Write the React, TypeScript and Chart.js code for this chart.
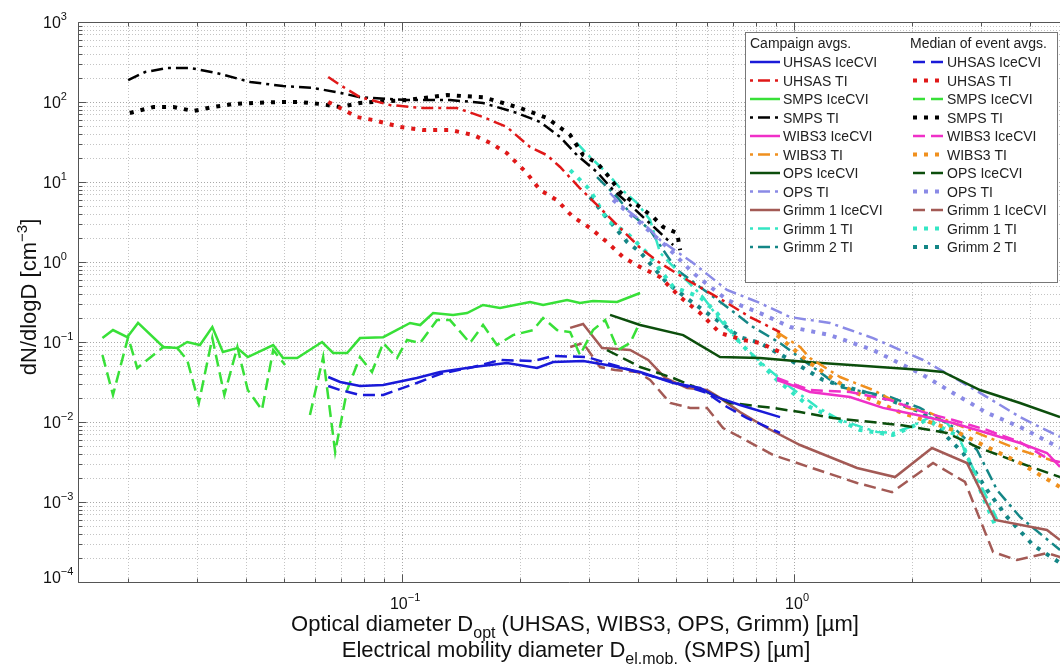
import React, { useEffect, useRef } from "react";
import { Chart, registerables } from "chart.js";

Chart.register(...registerables);

type Pt = [number, number | null];

// ---------- axis ranges / ticks ----------
const X_MIN = 0.0149;
const X_MAX = 4.77;
const Y_MIN = 1e-4;
const Y_MAX = 1e3;
const xLabelDecades = [-1, 0];
const yLabelDecades = [-4, -3, -2, -1, 0, 1, 2, 3];

// ---------- data (diameter in µm, dN/dlogD in cm^-3) ----------
const uhsasIceCviAvg: Pt[] = [[0.0648,0.0365],[0.0695,0.0316],[0.0781,0.0282],[0.0895,0.029],[0.109,0.0355],[0.125,0.0422],[0.152,0.0487],[0.185,0.0546],[0.221,0.0473],[0.243,0.0562],[0.29,0.0579],[0.333,0.0516],[0.405,0.0422],[0.492,0.0307],[0.576,0.0266],[0.636,0.0205],[0.728,0.0163],[0.921,0.0115]];
const uhsasIceCviMed: Pt[] = [[0.0648,0.0282],[0.0695,0.0251],[0.0781,0.0218],[0.0895,0.0218],[0.109,0.0307],[0.125,0.0398],[0.152,0.0487],[0.178,0.0596],[0.216,0.0579],[0.243,0.0668],[0.297,0.0649],[0.333,0.0546],[0.405,0.041],[0.492,0.0316],[0.6,0.023],[0.675,0.0154],[0.759,0.0112],[0.921,0.00729]];
const uhsasTiAvg: Pt[] = [[0.0648,205],[0.0695,163],[0.0781,115],[0.0931,91.7],[0.113,84.1],[0.138,84.1],[0.161,64.9],[0.185,48.7],[0.212,27.4],[0.234,21.7],[0.253,15.4],[0.284,8.41],[0.32,4.73],[0.36,2.66],[0.405,1.5],[0.455,0.972],[0.534,0.596],[0.675,0.307],[0.772,0.205],[0.921,0.133]];
const uhsasTiMed: Pt[] = [[0.0648,100],[0.0695,84.1],[0.0767,64.9],[0.0843,59.6],[0.0989,48.7],[0.113,44.7],[0.1325,44.7],[0.152,38.7],[0.168,30.7],[0.185,23],[0.208,12.95],[0.225,7.94],[0.248,5.96],[0.273,3.65],[0.302,2.66],[0.333,1.78],[0.366,1.155],[0.405,0.866],[0.455,0.649],[0.512,0.365],[0.576,0.23],[0.647,0.13],[0.741,0.106],[0.819,0.0972],[0.921,0.075]];

const smpsIceCviAvg: Pt[] = [[0.0172,0.112],[0.0183,0.141],[0.0199,0.115],[0.0212,0.173],[0.0246,0.0866],[0.0267,0.0841],[0.0283,0.1],[0.0305,0.0917],[0.0328,0.154],[0.0349,0.075],[0.038,0.0841],[0.0404,0.0649],[0.0469,0.0917],[0.0497,0.0631],[0.054,0.0631],[0.0625,0.1],[0.0667,0.0729],[0.0724,0.0729],[0.0781,0.112],[0.0895,0.115],[0.1048,0.173],[0.1112,0.163],[0.12,0.23],[0.1349,0.218],[0.1465,0.23],[0.1609,0.29],[0.1778,0.266],[0.2121,0.316],[0.229,0.29],[0.2636,0.335],[0.2844,0.307],[0.307,0.325],[0.3536,0.316],[0.4048,0.41]];
const smpsIceCviMed: Pt[] = [[0.0172,0.0688],[0.0183,0.0218],[0.02,0.115],[0.0211,0.0473],[0.0246,0.0866],[0.0267,0.0841],[0.0283,0.0596],[0.0303,0.0173],[0.0328,0.112],[0.0352,0.0218],[0.038,0.0866],[0.0404,0.0251],[0.0439,0.0141],[0.0469,0.0794],[0.0503,0.0516],[0.053,null],[0.0582,0.0122],[0.0629,0.0649],[0.0675,0.00422],[0.0724,0.0251],[0.0781,0.0649],[0.0838,0.0422],[0.0895,0.0972],[0.0971,0.0631],[0.103,0.106],[0.1112,0.0972],[0.1228,0.188],[0.1325,0.188],[0.149,0.0972],[0.1609,0.163],[0.1746,0.0917],[0.1919,0.122],[0.216,0.141],[0.229,0.2],[0.2484,0.141],[0.2684,0.133],[0.2844,0.0688],[0.307,0.141],[0.3296,0.188],[0.3557,0.0794],[0.3817,0.0972],[0.4048,0.178]];
const smpsTiAvg: Pt[] = [[0.02,188],[0.0221,237],[0.0252,266],[0.0288,266],[0.0337,230],[0.041,178],[0.0497,158],[0.0593,150],[0.0695,130],[0.0781,115],[0.103,106],[0.1325,106],[0.1609,97.2],[0.1965,72.9],[0.225,56.2],[0.253,36.5],[0.2794,21.7],[0.3143,13.3],[0.3454,7.94],[0.3817,5.16],[0.4474,2.51],[0.4916,1.63]];
const smpsTiMed: Pt[] = [[0.0202,72.9],[0.0232,86.6],[0.0261,86.6],[0.0293,77.2],[0.033,86.6],[0.0371,94.4],[0.0417,97.2],[0.0489,100],[0.0549,100],[0.0618,94.4],[0.0695,86.6],[0.0781,97.2],[0.0843,100],[0.103,106],[0.1303,122],[0.1609,115],[0.2,84.1],[0.2343,63.1],[0.2684,38.7],[0.2896,21.7],[0.3143,17.3],[0.3393,11.2],[0.3599,7.5],[0.3817,5.96],[0.4048,4.87],[0.437,3.65],[0.4636,2.74],[0.5032,2.3],[0.5122,1.41]];

const wibs3IceCviAvg: Pt[] = [[0.9047,0.0335],[1.018,0.0274],[1.098,0.0237],[1.389,0.0205],[1.687,0.015],[2.06,0.0122],[2.546,0.00972],[3.107,0.00729],[3.772,0.00546],[4.418,0.0041],[4.771,0.00274]];
const wibs3IceCviMed: Pt[] = [[0.9047,0.0355],[1.098,0.0251],[1.389,0.0237],[1.758,0.0188],[2.134,0.0133],[2.546,0.0106],[3.107,0.00794],[3.772,0.00562],[4.498,0.00335],[4.771,0.00316]];
const wibs3TiAvg: Pt[] = [[0.9047,0.133],[1.036,0.0866],[1.098,0.0631],[1.31,0.0365],[1.591,0.0251],[1.942,0.015],[2.223,0.013],[2.546,0.00972],[3.107,0.00649],[3.772,0.00447],[4.771,0.00307]];
const wibs3TiMed: Pt[] = [[0.9047,0.122],[1.098,0.0546],[1.389,0.0251],[1.864,0.0133],[2.546,0.00794],[3.107,0.00487],[3.772,0.00307],[4.771,0.00154]];

const opsIceCviAvg: Pt[] = [[0.3393,0.218],[0.4048,0.163],[0.5214,0.122],[0.6474,0.0649],[0.819,0.0631],[1.079,0.0562],[2.134,0.0447],[2.399,0.0422],[2.982,0.0251],[3.772,0.0173],[4.771,0.0115]];
const opsIceCviMed: Pt[] = [[0.3334,0.0794],[0.4048,0.0487],[0.4916,0.0355],[0.5997,0.0237],[0.6866,0.0173],[0.8839,0.015],[1.036,0.0133],[1.257,0.0112],[1.864,0.00917],[2.455,0.00729],[2.93,0.00487],[3.772,0.00307],[4.771,0.00205]];
const opsTiAvg: Pt[] = [[0.3393,7.29],[0.3663,4.87],[0.4048,3.35],[0.4554,1.88],[0.5529,0.972],[0.6745,0.447],[0.819,0.307],[0.9768,0.205],[1.235,0.173],[1.591,0.112],[2.134,0.0596],[2.546,0.0365],[3.107,0.0205],[3.772,0.0115],[4.771,0.0065]];
const opsTiMed: Pt[] = [[0.3454,5.96],[0.4048,3.07],[0.4745,1.54],[0.5529,0.729],[0.6745,0.335],[0.819,0.23],[0.9768,0.154],[1.235,0.122],[1.591,0.0794],[1.942,0.0487],[2.134,0.0387],[2.546,0.023],[3.107,0.013],[3.772,0.00866],[4.771,0.00473]];

const grimm1IceCviAvg: Pt[] = [[0.2684,0.15],[0.2896,0.168],[0.3237,0.0841],[0.3536,0.0818],[0.3817,0.0794],[0.4245,0.0596],[0.469,0.0355],[0.5336,0.0266],[0.5997,0.0251],[0.6474,0.02],[0.7281,0.0133],[0.8532,0.00841],[1.036,0.00516],[1.448,0.00266],[1.81,0.00205],[2.249,0.00473],[2.761,0.00307],[3.257,0.000596],[4.418,0.000447],[4.771,0.000335]];
const grimm1IceCviMed: Pt[] = [[0.2684,0.0866],[0.2896,0.0972],[0.3199,0.0487],[0.3494,0.0447],[0.3977,0.0422],[0.4294,0.0335],[0.483,0.0173],[0.5432,0.015],[0.5997,0.015],[0.659,0.00841],[0.7281,0.00649],[0.8839,0.00387],[1.448,0.00173],[1.778,0.00133],[2.263,0.00307],[2.73,0.00178],[3.219,0.000237],[3.705,0.000188],[4.418,0.00023],[4.771,0.000205]];
const grimm1TiAvg: Pt[] = [[0.2794,30.7],[0.3018,20.5],[0.3334,12.95],[0.3599,8.41],[0.3977,5.46],[0.4294,3.35],[0.4554,1.3],[0.5214,0.649],[0.5859,0.365],[0.6474,0.188],[0.7281,0.0972],[0.8532,0.0473],[0.9768,0.0274],[1.144,0.0154],[1.31,0.0106],[1.629,0.0075],[1.789,0.00729],[1.977,0.00866],[2.223,0.0115],[2.455,0.0097],[2.65,0.00596],[2.93,0.00205],[3.296,0.00061]];
const grimm1TiMed: Pt[] = [[0.2684,14.1],[0.3018,7.94],[0.3334,3.35],[0.375,2.3],[0.4218,1.3],[0.4916,0.487],[0.5755,0.365],[0.636,0.23],[0.7281,0.0972],[0.9047,0.0335],[1.098,0.0154],[1.474,0.00794],[1.789,0.00688],[2.184,0.0106],[2.65,0.00649],[3.035,0.00115],[3.296,0.00045]];
const grimm2TiAvg: Pt[] = [[0.3143,11.5],[0.3536,6.49],[0.3817,4.1],[0.4294,2.51],[0.4636,1.41],[0.5032,0.794],[0.5755,0.487],[0.6745,0.274],[0.7861,0.154],[0.921,0.0972],[1.054,0.0596],[1.31,0.0274],[1.758,0.0205],[2.096,0.015],[2.546,0.00866],[2.93,0.00447],[3.296,0.00141],[3.772,0.00065],[4.771,0.000251]];
const grimm2TiMed: Pt[] = [[0.3018,6.49],[0.3334,3.55],[0.375,1.78],[0.4048,1.33],[0.4745,0.546],[0.5529,0.307],[0.636,0.188],[0.7281,0.115],[0.819,0.0972],[0.9768,0.0596],[1.186,0.0335],[1.448,0.0251],[1.758,0.0188],[2.134,0.013],[2.698,0.0041],[3.107,0.00141],[3.496,0.00065],[4.071,0.00029],[4.771,0.000173]];

// ---------- series (legend order) ----------
const instrumentNames = ["UHSAS IceCVI","UHSAS TI","SMPS IceCVI","SMPS TI","WIBS3 IceCVI","WIBS3 TI","OPS IceCVI","OPS TI","Grimm 1 IceCVI","Grimm 1 TI","Grimm 2 TI"];
const instrumentColors = ["#1a1ad8","#e01818","#38e038","#000000","#f030c8","#f0901e","#0c4e0c","#8a8ae6","#a35a55","#34e6c4","#148686"];
const campaignData = [uhsasIceCviAvg,uhsasTiAvg,smpsIceCviAvg,smpsTiAvg,wibs3IceCviAvg,wibs3TiAvg,opsIceCviAvg,opsTiAvg,grimm1IceCviAvg,grimm1TiAvg,grimm2TiAvg];
const medianData = [uhsasIceCviMed,uhsasTiMed,smpsIceCviMed,smpsTiMed,wibs3IceCviMed,wibs3TiMed,opsIceCviMed,opsTiMed,grimm1IceCviMed,grimm1TiMed,grimm2TiMed];

const FONT = '"Liberation Sans", Arial, Helvetica, sans-serif';

type Style = { dash: number[]; width: number; offset: number };
const SOLID: Style = { dash: [], width: 2.5, offset: 0 };
const DASHDOT: Style = { dash: [12, 5, 3, 5], width: 2.5, offset: 17 };
const DASHED: Style = { dash: [12, 6], width: 2.5, offset: 0 };
const DOTTED: Style = { dash: [4, 7], width: 4, offset: 0 };

const isTI = (name: string) => name.endsWith(" TI");

type Part = { t: string; size: number; dy: number };
function drawRich(ctx: CanvasRenderingContext2D, parts: Part[], x: number, y: number, align: "left" | "center" | "right") {
  const widths = parts.map((p) => { ctx.font = `${p.size}px ${FONT}`; return ctx.measureText(p.t).width; });
  const total = widths.reduce((a, b) => a + b, 0);
  let cx = align === "left" ? x : align === "center" ? x - total / 2 : x - total;
  ctx.textAlign = "left";
  ctx.textBaseline = "alphabetic";
  parts.forEach((p, i) => { ctx.font = `${p.size}px ${FONT}`; ctx.fillText(p.t, cx, y + p.dy); cx += widths[i]; });
}

function gridValues(min: number, max: number) {
  const out: { v: number; major: boolean }[] = [];
  for (let e = Math.floor(Math.log10(min)); e <= Math.ceil(Math.log10(max)); e++) {
    for (let m = 1; m <= 9; m++) {
      const v = m * Math.pow(10, e);
      if (v >= min * 0.9999 && v <= max * 1.0001) out.push({ v, major: m === 1 });
    }
  }
  return out;
}

const matlabPlugin = {
  id: "matlabAxes",
  beforeDatasetsDraw(chart: any) {
    const { ctx, chartArea: a, scales } = chart;
    const xs = scales.x, ys = scales.y;
    ctx.save();
    ctx.lineWidth = 1;
    ctx.setLineDash([1, 2]);
    for (const g of gridValues(X_MIN, X_MAX)) {
      const px = Math.round(xs.getPixelForValue(g.v)) + 0.5;
      ctx.strokeStyle = g.major ? "#a8a8a8" : "#c4c4c4";
      ctx.beginPath(); ctx.moveTo(px, a.top); ctx.lineTo(px, a.bottom); ctx.stroke();
    }
    for (const g of gridValues(Y_MIN, Y_MAX)) {
      const py = Math.round(ys.getPixelForValue(g.v)) + 0.5;
      ctx.strokeStyle = g.major ? "#a8a8a8" : "#c4c4c4";
      ctx.beginPath(); ctx.moveTo(a.left, py); ctx.lineTo(a.right, py); ctx.stroke();
    }
    ctx.restore();
  },
  afterDatasetsDraw(chart: any) {
    const { ctx, chartArea: a, scales } = chart;
    const xs = scales.x, ys = scales.y;
    ctx.save();
    ctx.setLineDash([]);
    ctx.strokeStyle = "#555";
    ctx.lineWidth = 1;
    // box
    const L = Math.round(a.left) + 0.5, T = Math.round(a.top) + 0.5, B = Math.round(a.bottom) + 0.5;
    ctx.beginPath();
    ctx.moveTo(a.right, T); ctx.lineTo(L, T); ctx.lineTo(L, B); ctx.lineTo(a.right, B);
    ctx.stroke();
    // ticks
    ctx.beginPath();
    for (const g of gridValues(X_MIN, X_MAX)) {
      const px = Math.round(xs.getPixelForValue(g.v)) + 0.5;
      const len = g.major ? 8 : 4;
      ctx.moveTo(px, B); ctx.lineTo(px, B - len);
      ctx.moveTo(px, T); ctx.lineTo(px, T + len);
    }
    for (const g of gridValues(Y_MIN, Y_MAX)) {
      const py = Math.round(ys.getPixelForValue(g.v)) + 0.5;
      const len = g.major ? 8 : 4;
      ctx.moveTo(L, py); ctx.lineTo(L + len, py);
    }
    ctx.stroke();

    // tick labels
    ctx.fillStyle = "#111";
    const sup = (e: number) => (e < 0 ? "\u2212" + Math.abs(e) : String(e));
    for (const e of yLabelDecades) {
      const py = ys.getPixelForValue(Math.pow(10, e));
      const base = e === -4 ? py + 1 : py + 6;
      drawRich(ctx, [{ t: "10", size: 16, dy: 0 }, { t: sup(e), size: 11, dy: -8 }], 43, base, "left");
    }
    for (const e of xLabelDecades) {
      const px = xs.getPixelForValue(Math.pow(10, e));
      drawRich(ctx, [{ t: "10", size: 16, dy: 0 }, { t: sup(e), size: 11, dy: -8 }], px + 3, 609, "center");
    }

    // axis titles
    drawRich(ctx, [
      { t: "Optical diameter D", size: 22, dy: 0 },
      { t: "opt", size: 16, dy: 7 },
      { t: " (UHSAS, WIBS3, OPS, Grimm) [\u00b5m]", size: 22, dy: 0 },
    ], 575, 631, "center");
    drawRich(ctx, [
      { t: "Electrical mobility diameter D", size: 22, dy: 0 },
      { t: "el.mob.", size: 16, dy: 7 },
      { t: " (SMPS) [\u00b5m]", size: 22, dy: 0 },
    ], 576, 657, "center");
    ctx.save();
    ctx.translate(36, 297);
    ctx.rotate(-Math.PI / 2);
    drawRich(ctx, [
      { t: "dN/dlogD [cm", size: 22, dy: 0 },
      { t: "\u22123", size: 15, dy: -9 },
      { t: "]", size: 22, dy: 0 },
    ], 0, 0, "center");
    ctx.restore();

    // legend
    const bx = 745, by = 32, bw = 312, bh = 250;
    ctx.fillStyle = "#fff";
    ctx.fillRect(bx, by, bw, bh);
    ctx.strokeStyle = "#777";
    ctx.lineWidth = 1;
    ctx.strokeRect(bx + 0.5, by + 0.5, bw, bh);
    ctx.fillStyle = "#222";
    ctx.font = `14px ${FONT}`;
    ctx.textBaseline = "alphabetic";
    ctx.textAlign = "left";
    ctx.fillText("Campaign avgs.", 750, 48);
    ctx.fillText("Median of event avgs.", 910, 48);
    instrumentNames.forEach((name, i) => {
      const ry = 62 + i * 18.5;
      const color = instrumentColors[i];
      const st1 = isTI(name) ? DASHDOT : SOLID;
      const st2 = isTI(name) ? DOTTED : DASHED;
      const drawSample = (st: Style, x0: number, x1: number) => {
        ctx.strokeStyle = color;
        ctx.lineWidth = st.width;
        ctx.setLineDash(st.dash);
        ctx.lineDashOffset = st.offset;
        ctx.beginPath(); ctx.moveTo(x0, ry); ctx.lineTo(x1, ry); ctx.stroke();
      };
      drawSample(st1, 750, 780);
      drawSample(st2, 913, 944);
      ctx.setLineDash([]);
      ctx.fillStyle = "#222";
      ctx.font = `14px ${FONT}`;
      ctx.fillText(name, 783, ry + 5);
      ctx.fillText(name, 947, ry + 5);
    });
    ctx.restore();
  },
};

export default function App() {
  const ref = useRef<HTMLCanvasElement | null>(null);
  useEffect(() => {
    if (!ref.current) return;
    const toXY = (d: Pt[]) => d.map(([x, y]) => ({ x, y }));
    const datasets: any[] = [];
    instrumentNames.forEach((name, i) => {
      const st1 = isTI(name) ? DASHDOT : SOLID;
      const st2 = isTI(name) ? DOTTED : DASHED;
      datasets.push({
        label: name + " (campaign avg.)",
        data: toXY(campaignData[i]),
        borderColor: instrumentColors[i],
        borderWidth: st1.width,
        borderDash: st1.dash,
        borderCapStyle: "butt",
        pointRadius: 0,
        fill: false,
        tension: 0,
        spanGaps: false,
      });
      datasets.push({
        label: name + " (median of event avgs.)",
        data: toXY(medianData[i]),
        borderColor: instrumentColors[i],
        borderWidth: st2.width,
        borderDash: st2.dash,
        borderCapStyle: "butt",
        pointRadius: 0,
        fill: false,
        tension: 0,
        spanGaps: false,
      });
    });
    const chart = new Chart(ref.current, {
      type: "line",
      data: { datasets },
      options: {
        responsive: false,
        animation: false,
        devicePixelRatio: 1,
        events: [],
        layout: { padding: { left: 78, top: 22, right: 0, bottom: 88 } },
        plugins: { legend: { display: false }, tooltip: { enabled: false } },
        scales: {
          x: { type: "logarithmic", min: X_MIN, max: X_MAX, display: false },
          y: { type: "logarithmic", min: Y_MIN, max: Y_MAX, display: false },
        },
      },
      plugins: [matlabPlugin],
    } as any);
    return () => chart.destroy();
  }, []);
  return (
    <div style={{ position: "absolute", left: 0, top: 0, width: 1060, height: 670, background: "#fff" }}>
      <canvas ref={ref} width={1060} height={670} style={{ display: "block" }} />
    </div>
  );
}
